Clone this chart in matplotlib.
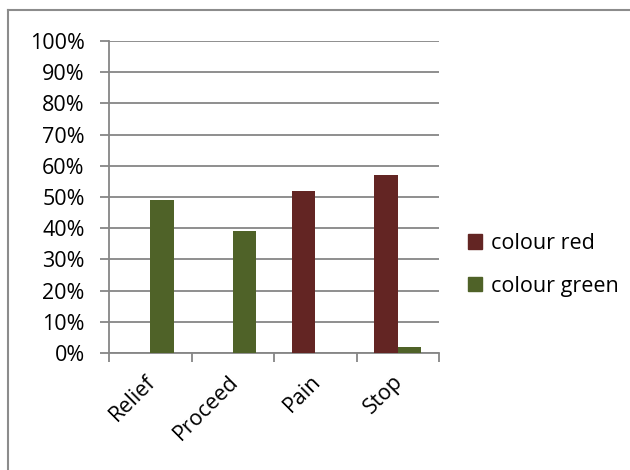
import matplotlib
matplotlib.use("Agg")
import matplotlib.pyplot as plt
import matplotlib.transforms as mtransforms
from matplotlib.lines import Line2D
from matplotlib.patches import Patch
import numpy as np

categories = ["Relief", "Proceed", "Pain", "Stop"]
red_values = [0, 0, 52, 57]
green_values = [49, 39, 0, 2]
series_names = ["colour red", "colour green"]
y_ticks = list(range(0, 101, 10))
y_labels = [f"{v}%" for v in y_ticks]

RED = "#632523"
GREEN = "#4F6228"
AXC = "#868686"
FS = 15.5

plt.rcParams['font.family'] = ['Open Sans', 'DejaVu Sans']

fig = plt.figure(figsize=(6.3, 4.7), dpi=100)
ax = fig.add_axes([109/630, 1-353/470, 330/630, 312/470])

x = np.arange(len(categories))
w = 1/3.5
ax.bar(x - w/2, red_values, w, color=RED, label=series_names[0], zorder=3)
ax.bar(x + w/2, green_values, w, color=GREEN, label=series_names[1], zorder=3)

ax.set_xlim(-0.5, len(categories) - 0.5)
ax.set_ylim(0, 100)
ax.set_yticks(y_ticks)
ax.set_yticklabels(y_labels, fontsize=FS)
ax.yaxis.grid(True, color=AXC, linewidth=1.3, zorder=0)
ax.set_axisbelow(True)

ax.set_xticks(np.arange(len(categories) + 1) - 0.5)
ax.set_xticklabels([])
ax.set_xticks(x, minor=True)
ax.set_xticklabels(categories, minor=True, rotation=45, ha='right',
                   rotation_mode='anchor', fontsize=FS)
ax.tick_params(axis='x', which='minor', length=0, pad=13)
ax.tick_params(axis='x', which='major', length=6.5, color=AXC, width=1.3)
ax.tick_params(axis='y', length=6.5, color=AXC, width=1.3, pad=11)

offset = mtransforms.ScaledTranslation(-5/100, 0, fig.dpi_scale_trans)
for lbl in ax.get_xticklabels(minor=True):
    lbl.set_transform(lbl.get_transform() + offset)

for s in ['top', 'right']:
    ax.spines[s].set_visible(False)
for s in ['left', 'bottom']:
    ax.spines[s].set_color(AXC)
    ax.spines[s].set_linewidth(1.3)

handles = [Patch(color=RED), Patch(color=GREEN)]
fig.legend(handles, series_names, loc='center left',
           bbox_to_anchor=(459/630, 1-265/470), frameon=False,
           fontsize=FS, handlelength=0.65, handleheight=0.65,
           handletextpad=0.45, labelspacing=1.0, borderaxespad=0)

# outer chart border (top and left visible)
fig.add_artist(Line2D([8/630, 8/630], [0, 1-10/470], transform=fig.transFigure,
                      color="#8c8c8c", linewidth=1.5))
fig.add_artist(Line2D([8/630, 1], [1-10/470, 1-10/470], transform=fig.transFigure,
                      color="#8c8c8c", linewidth=1.5))

fig.savefig("out.png", dpi=100)
